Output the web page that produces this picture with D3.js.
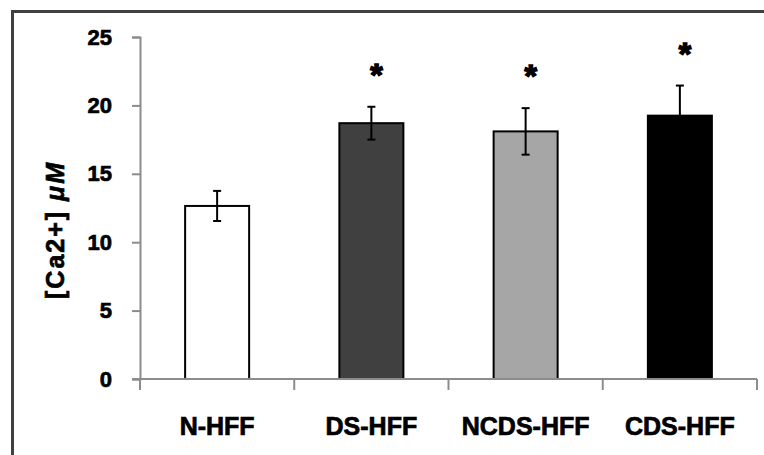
<!DOCTYPE html>
<html>
<head>
<meta charset="utf-8">
<script src="https://cdn.jsdelivr.net/npm/d3@7"></script>
<style>
  html, body { margin: 0; padding: 0; background: #fff; }
  svg { display: block; }
  text { font-family: "Liberation Sans", Arial, sans-serif; font-weight: bold; fill: #000; stroke: #000; stroke-width: 0.7px; }
</style>
</head>
<body>
<svg id="chart" width="764" height="455"></svg>
<script>
// Cell groups and measured free calcium (mean ± SD, µM)
const groups = ["N-HFF", "DS-HFF", "NCDS-HFF", "CDS-HFF"];
const calcium = [12.65, 18.7, 18.1, 19.25];
const calciumErr = [1.1, 1.2, 1.7, 2.2];
const significant = [false, true, true, true];
const barFills = ["#ffffff", "#404040", "#a6a6a6", "#000000"];
const yTicks = [0, 5, 10, 15, 20, 25];

const svg = d3.select("#chart");
const W = 764, H = 455;

// outer frame, running off the right and bottom edges
svg.append("path")
  .attr("d", `M12.5,${H} L12.5,11.5 L${W},11.5`)
  .attr("fill", "none")
  .attr("stroke", "#404040")
  .attr("stroke-width", 3);

const plot = { left: 140, right: 757, top: 37, bottom: 379 };

const x = d3.scaleBand().domain(groups).range([plot.left, plot.right]).padding(0);
const y = d3.scaleLinear().domain([0, 25]).range([plot.bottom, plot.top]);
const barW = x.bandwidth() * 0.415;

// y axis
const yAxis = svg.append("g")
  .attr("transform", `translate(${plot.left},0)`)
  .call(d3.axisLeft(y).tickValues(yTicks).tickSize(8).tickPadding(20).tickFormat(d3.format("d")));
yAxis.select(".domain").attr("stroke", "#8c8c8c").attr("stroke-width", 2);
yAxis.selectAll(".tick line").attr("stroke", "#8c8c8c").attr("stroke-width", 2);
yAxis.selectAll(".tick text")
  .style("font-size", "22px")
  .attr("fill", "#000");

// bars
svg.append("g").selectAll("rect")
  .data(groups)
  .join("rect")
  .attr("x", (d) => x(d) + (x.bandwidth() - barW) / 2)
  .attr("y", (d, i) => y(calcium[i]))
  .attr("width", barW)
  .attr("height", (d, i) => y(0) - y(calcium[i]))
  .attr("fill", (d, i) => barFills[i])
  .attr("stroke", "#000")
  .attr("stroke-width", 2);

// error bars
const eb = svg.append("g").attr("stroke", "#000").attr("stroke-width", 2);
groups.forEach((g, i) => {
  const cx = x(g) + x.bandwidth() / 2;
  const hi = y(calcium[i] + calciumErr[i]);
  const lo = y(calcium[i] - calciumErr[i]);
  eb.append("line").attr("x1", cx).attr("x2", cx).attr("y1", hi).attr("y2", lo);
  eb.append("line").attr("x1", cx - 4).attr("x2", cx + 4).attr("y1", hi).attr("y2", hi);
  eb.append("line").attr("x1", cx - 4).attr("x2", cx + 4).attr("y1", lo).attr("y2", lo);
});

// x axis with category-boundary ticks
const xAxisG = svg.append("g").attr("transform", `translate(0,${plot.bottom})`);
xAxisG.append("line")
  .attr("x1", plot.left - 8).attr("x2", plot.right)
  .attr("stroke", "#8c8c8c").attr("stroke-width", 2);
const bounds = groups.map((g) => x(g)).concat([x(groups[groups.length - 1]) + x.bandwidth()]);
xAxisG.selectAll("line.bound")
  .data(bounds)
  .join("line")
  .attr("class", "bound")
  .attr("x1", (d) => d).attr("x2", (d) => d)
  .attr("y1", 0).attr("y2", 11)
  .attr("stroke", "#8c8c8c").attr("stroke-width", 2);
xAxisG.selectAll("text")
  .data(groups)
  .join("text")
  .attr("x", (d) => x(d) + x.bandwidth() / 2)
  .attr("y", 56)
  .attr("text-anchor", "middle")
  .style("font-size", "25px")
  .text((d) => d);

// significance markers
svg.append("g").selectAll("text")
  .data(groups.filter((g, i) => significant[i]))
  .join("text")
  .attr("x", (d) => x(d) + x.bandwidth() / 2 + 5)
  .attr("y", (d) => { const i = groups.indexOf(d); return y(calcium[i] + calciumErr[i]) - 21; })
  .attr("text-anchor", "middle")
  .style("font-size", "32px")
  .style("stroke-width", "1.5px")
  .text("*");

// y axis title
const yTitle = svg.append("text")
  .attr("transform", `translate(64,230) rotate(-90)`)
  .attr("text-anchor", "middle")
  .style("font-size", "25px")
  .style("letter-spacing", "2px");
yTitle.append("tspan").text("[Ca2+] ");
yTitle.append("tspan").style("font-style", "italic").text("μM");
</script>
</body>
</html>
